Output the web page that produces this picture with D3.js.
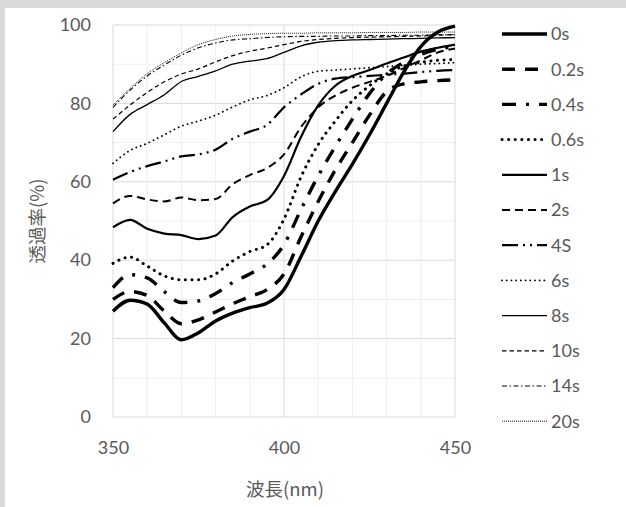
<!DOCTYPE html>
<html>
<head>
<meta charset="utf-8">
<script src="https://d3js.org/d3.v7.min.js"></script>
<style>
	body { margin: 0; background: #d9d9d9; }
	svg { display: block; }
	.tick text, .legendText { font-family: Lato, "Noto Sans", sans-serif; font-size: 18px; fill: #595959; }
	.axisTitle { font-family: "Noto Sans CJK JP", Lato, sans-serif; font-size: 18.5px; fill: #595959; }
</style>
</head>
<body>
<script>
(function(){

	//wavelength values (nm), one every 5 nm
	var wavelengths = [350, 355, 360, 365, 370, 375, 380, 385, 390, 395, 400, 405, 410, 415, 420, 425, 430, 435, 440, 445, 450];

	//series names in legend order
	var seriesNames = ["0s", "0.2s", "0.4s", "0.6s", "1s", "2s", "4S", "6s", "8s", "10s", "14s", "20s"];

	//transmittance (%)
	var t0s   = [27.0, 29.8, 28.8, 24.0, 19.7, 21.5, 24.5, 26.5, 27.9, 29.0, 32.5, 41.0, 50.0, 57.5, 64.5, 72.0, 80.0, 88.0, 94.5, 98.2, 99.7];
	var t02s  = [30.0, 32.0, 31.0, 27.0, 23.8, 24.8, 26.8, 28.9, 30.7, 32.5, 36.5, 46.0, 55.0, 63.0, 70.0, 77.0, 83.0, 85.0, 85.5, 85.8, 86.0];
	var t04s  = [33.0, 36.3, 35.5, 32.0, 29.2, 29.6, 31.5, 34.3, 36.5, 39.0, 44.0, 53.0, 61.5, 69.0, 76.0, 82.5, 87.5, 90.5, 92.5, 93.8, 94.5];
	var t06s  = [39.2, 40.8, 38.5, 36.0, 35.0, 35.0, 36.5, 39.8, 42.2, 43.9, 50.5, 61.3, 69.5, 75.5, 80.7, 84.5, 87.5, 89.5, 90.5, 91.0, 91.2];
	var t1s   = [48.4, 50.3, 48.0, 46.8, 46.4, 45.4, 46.3, 51.0, 53.7, 55.3, 61.5, 71.5, 79.5, 84.5, 87.0, 88.5, 90.2, 91.7, 93.2, 94.2, 95.0];
	var t2s   = [54.5, 56.4, 55.5, 55.0, 56.0, 55.3, 55.6, 59.4, 61.7, 63.5, 67.0, 74.0, 79.0, 82.0, 84.0, 85.5, 87.0, 89.0, 91.0, 93.0, 94.0];
	var t4s   = [60.5, 62.5, 64.0, 65.2, 66.5, 67.0, 68.2, 71.0, 72.8, 74.5, 79.0, 82.3, 85.0, 86.3, 86.7, 87.0, 87.3, 87.6, 88.0, 88.3, 88.5];
	var t6s   = [64.7, 68.0, 69.8, 72.0, 74.2, 75.5, 77.0, 79.1, 80.9, 82.0, 84.0, 86.8, 88.2, 88.5, 88.8, 89.1, 89.4, 89.7, 90.0, 90.2, 90.4];
	var t8s   = [72.8, 77.2, 79.7, 82.2, 85.6, 86.9, 88.3, 90.0, 90.8, 91.4, 93.0, 94.7, 95.6, 96.0, 96.2, 96.3, 96.4, 96.5, 96.6, 96.7, 96.8];
	var t10s  = [76.0, 79.6, 82.8, 85.5, 87.5, 88.8, 90.6, 92.2, 93.3, 94.1, 95.0, 95.8, 96.3, 96.6, 96.8, 96.9, 97.0, 97.1, 97.2, 97.4, 97.5];
	var t14s  = [79.0, 83.4, 87.0, 89.8, 92.3, 94.2, 95.4, 96.2, 96.5, 96.8, 97.0, 97.1, 97.1, 97.2, 97.2, 97.3, 97.3, 97.4, 97.4, 97.5, 97.5];
	var t20s  = [79.6, 83.8, 87.6, 90.4, 92.9, 95.0, 96.3, 97.2, 97.6, 97.8, 97.9, 97.9, 98.0, 98.0, 98.0, 98.1, 98.1, 98.1, 98.2, 98.2, 98.2];

	var seriesValues = [t0s, t02s, t04s, t06s, t1s, t2s, t4s, t6s, t8s, t10s, t14s, t20s];

	//tick labels
	var xTicks = [350, 400, 450];
	var yTicks = [0, 20, 40, 60, 80, 100];

	//line styles, one per series
	var lineStyles = [
		{width: 3.4, dash: null},
		{width: 3.4, dash: "13,10"},
		{width: 3.4, dash: "14,10,3,10"},
		{width: 3, dash: "0.1,6.5", cap: "round"},
		{width: 2.2, dash: null},
		{width: 2, dash: "8,5"},
		{width: 2.2, dash: "16,5,2,5,2,5"},
		{width: 1.8, dash: "0.1,4.6", cap: "round"},
		{width: 1.3, dash: null},
		{width: 1.2, dash: "4.5,3"},
		{width: 1.1, dash: "5,2.5,1.5,2.5"},
		{width: 0.9, dash: "1,1"}
	];

	var width = 626, height = 507;

	var svg = d3.select("body")
		.append("svg")
		.attr("width", width)
		.attr("height", height);

	//white chart area inside the gray frame
	svg.append("rect")
		.attr("x", 5)
		.attr("y", 8)
		.attr("width", width - 5)
		.attr("height", height - 8)
		.attr("fill", "#ffffff");

	//plot area scales
	var x = d3.scaleLinear().domain([350, 450]).range([113, 455]);
	var y = d3.scaleLinear().domain([0, 100]).range([417, 25]);

	//gridlines every 10, darker at the labelled values
	svg.append("g")
		.selectAll("line")
		.data(d3.range(0, 101, 10))
		.enter()
		.append("line")
		.attr("x1", x(350)).attr("x2", x(450))
		.attr("y1", function(d){ return y(d); })
		.attr("y2", function(d){ return y(d); })
		.attr("stroke", function(d){ return d % 20 == 0 ? "#d9d9d9" : "#efefef"; })
		.attr("stroke-width", 1);

	svg.append("g")
		.selectAll("line")
		.data(d3.range(350, 451, 10))
		.enter()
		.append("line")
		.attr("y1", y(0)).attr("y2", y(100))
		.attr("x1", function(d){ return x(d); })
		.attr("x2", function(d){ return x(d); })
		.attr("stroke", function(d){ return d % 50 == 0 ? "#d9d9d9" : "#efefef"; })
		.attr("stroke-width", 1);

	//axes (labels only, no domain lines)
	var yAxis = svg.append("g")
		.attr("transform", "translate(" + x(350) + ",0)")
		.call(d3.axisLeft(y).tickValues(yTicks).tickSize(0).tickPadding(22));

	var xAxis = svg.append("g")
		.attr("transform", "translate(0," + y(0) + ")")
		.call(d3.axisBottom(x).tickValues(xTicks).tickSize(0).tickPadding(24));

	[yAxis, xAxis].forEach(function(ax){
		ax.select(".domain").remove();
		ax.selectAll("text").attr("font-size", null).attr("font-family", null);
	});

	//axis titles
	svg.append("text")
		.attr("class", "axisTitle")
		.attr("transform", "translate(44,221) rotate(-90)")
		.attr("text-anchor", "middle")
		.text("透過率(%)");

	svg.append("text")
		.attr("class", "axisTitle")
		.attr("x", 285)
		.attr("y", 496)
		.attr("text-anchor", "middle")
		.text("波長(nm)");

	//line generator
	var line = d3.line()
		.x(function(d, i){ return x(wavelengths[i]); })
		.y(function(d){ return y(d); })
		.curve(d3.curveMonotoneX);

	svg.append("g")
		.selectAll("path")
		.data(seriesValues)
		.enter()
		.append("path")
		.attr("d", line)
		.attr("fill", "none")
		.attr("stroke", "#000")
		.attr("stroke-width", function(d, i){ return lineStyles[i].width; })
		.attr("stroke-dasharray", function(d, i){ return lineStyles[i].dash; })
		.attr("stroke-linecap", function(d, i){ return lineStyles[i].cap || "butt"; });

	//legend
	var legend = svg.append("g")
		.selectAll("g")
		.data(seriesNames)
		.enter()
		.append("g")
		.attr("transform", function(d, i){ return "translate(0," + (34 + i * 35.2) + ")"; });

	legend.append("line")
		.attr("x1", 502).attr("x2", 547)
		.attr("y1", 0).attr("y2", 0)
		.attr("stroke", "#000")
		.attr("stroke-width", function(d, i){ return lineStyles[i].width; })
		.attr("stroke-dasharray", function(d, i){ return lineStyles[i].dash; })
		.attr("stroke-linecap", function(d, i){ return lineStyles[i].cap || "butt"; });

	legend.append("text")
		.attr("class", "legendText")
		.attr("x", 551)
		.attr("y", 0)
		.attr("dy", "0.35em")
		.text(function(d){ return d; });

})();
</script>
</body>
</html>
